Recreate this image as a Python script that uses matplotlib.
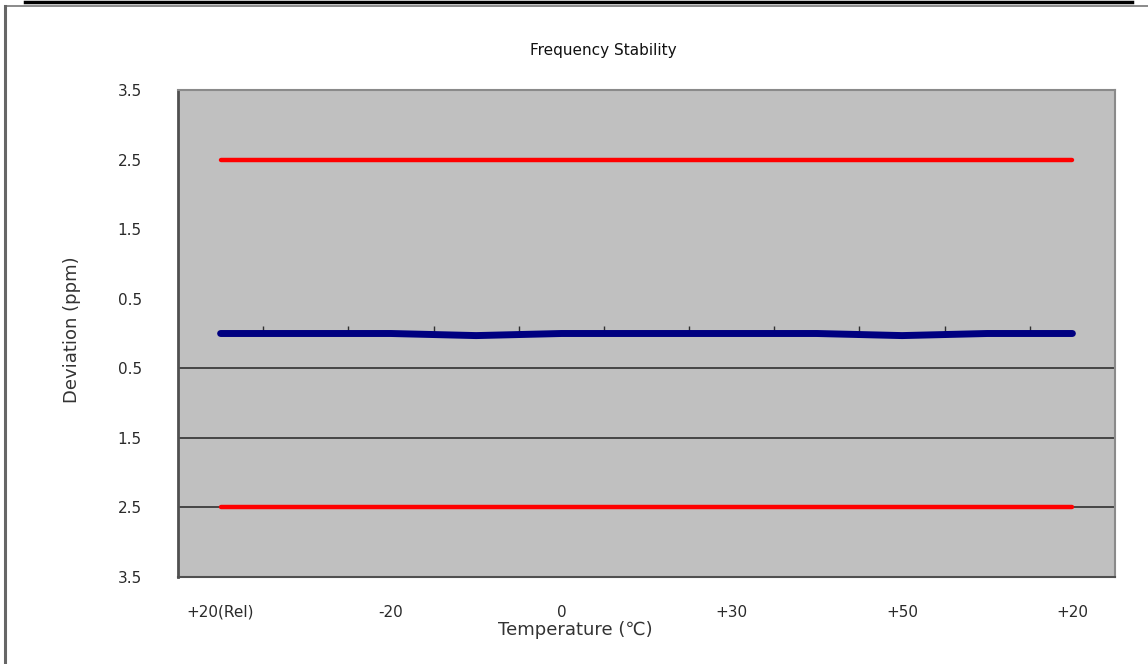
import matplotlib
matplotlib.use('Agg')
import matplotlib.pyplot as plt
from matplotlib.lines import Line2D
import numpy as np

plt.rcParams['font.family'] = ['DejaVu Sans', 'Noto Sans CJK KR']

# chart data
tick_labels = ['+20(Rel)', '', '-20', '', '0', '', '+30', '', '+50', '', '+20']
deviation = [0, 0, 0, -0.03, 0, 0, 0, 0, -0.03, 0, 0]
upper_limit = [2.5] * 11
lower_limit = [-2.5] * 11
y_ticks = [-3.5, -2.5, -1.5, -0.5, 0.5, 1.5, 2.5, 3.5]
y_tick_labels = ['3.5', '2.5', '1.5', '0.5', '0.5', '1.5', '2.5', '3.5']
grid_levels = [-0.5, -1.5, -2.5]

W, H = 1148, 664
fig = plt.figure(figsize=(W / 100, H / 100), dpi=100)
ax = fig.add_axes([178 / W, 1 - 577 / H, (1115 - 178) / W, (577 - 90) / H])
ax.set_facecolor('#c0c0c0')

x = np.arange(len(tick_labels))

for g in grid_levels:
    ax.axhline(g, color='#303030', lw=1.2, zorder=1)

# category axis crossing at zero: only its tick marks between categories show
ax.vlines(x[:-1] + 0.5, 0, 0.11, color='#303030', lw=1, zorder=2)

ax.plot(x, upper_limit, color='#ff0000', lw=3.2, solid_capstyle='round', zorder=3)
ax.plot(x, lower_limit, color='#ff0000', lw=3.2, solid_capstyle='round', zorder=3)
ax.plot(x, deviation, color='#000080', lw=5, solid_capstyle='round', zorder=4)

ax.set_xlim(-0.5, len(x) - 0.5)
ax.set_ylim(-3.5, 3.5)

ax.set_yticks(y_ticks)
ax.set_yticklabels(y_tick_labels, fontsize=11, color='#2a2a2a')
ax.tick_params(axis='y', length=0, pad=26)

ax.set_xticks(x)
ax.set_xticklabels(tick_labels, fontsize=11, color='#2a2a2a')
ax.tick_params(axis='x', length=0, pad=20)

ax.spines['left'].set_color('#505050')
ax.spines['left'].set_linewidth(2)
ax.spines['bottom'].set_color('#505050')
ax.spines['bottom'].set_linewidth(1.5)
ax.spines['top'].set_color('#8a8a8a')
ax.spines['top'].set_linewidth(1.5)
ax.spines['right'].set_color('#8a8a8a')
ax.spines['right'].set_linewidth(1.5)

fig.text(603 / W, 1 - 50 / H, 'Frequency Stability', ha='center', va='center',
         fontsize=11, color='#111111')
fig.text(575 / W, 1 - 630 / H, 'Temperature (℃)', ha='center', va='center',
         fontsize=13, color='#333333')
fig.text(72 / W, 1 - 330 / H, 'Deviation (ppm)', ha='center', va='center',
         rotation=90, fontsize=13, color='#333333')

# page frame around the chart
fig.add_artist(Line2D([25 / W, 1132 / W], [1 - 1.5 / H, 1 - 1.5 / H],
                      color='black', lw=2.5, transform=fig.transFigure))
fig.add_artist(Line2D([5 / W, 1], [1 - 6 / H, 1 - 6 / H],
                      color='#777777', lw=1.2, transform=fig.transFigure))
fig.add_artist(Line2D([5 / W, 5 / W], [0, 1 - 6 / H],
                      color='#666666', lw=2.2, transform=fig.transFigure))

fig.savefig('out.png', dpi=100)
